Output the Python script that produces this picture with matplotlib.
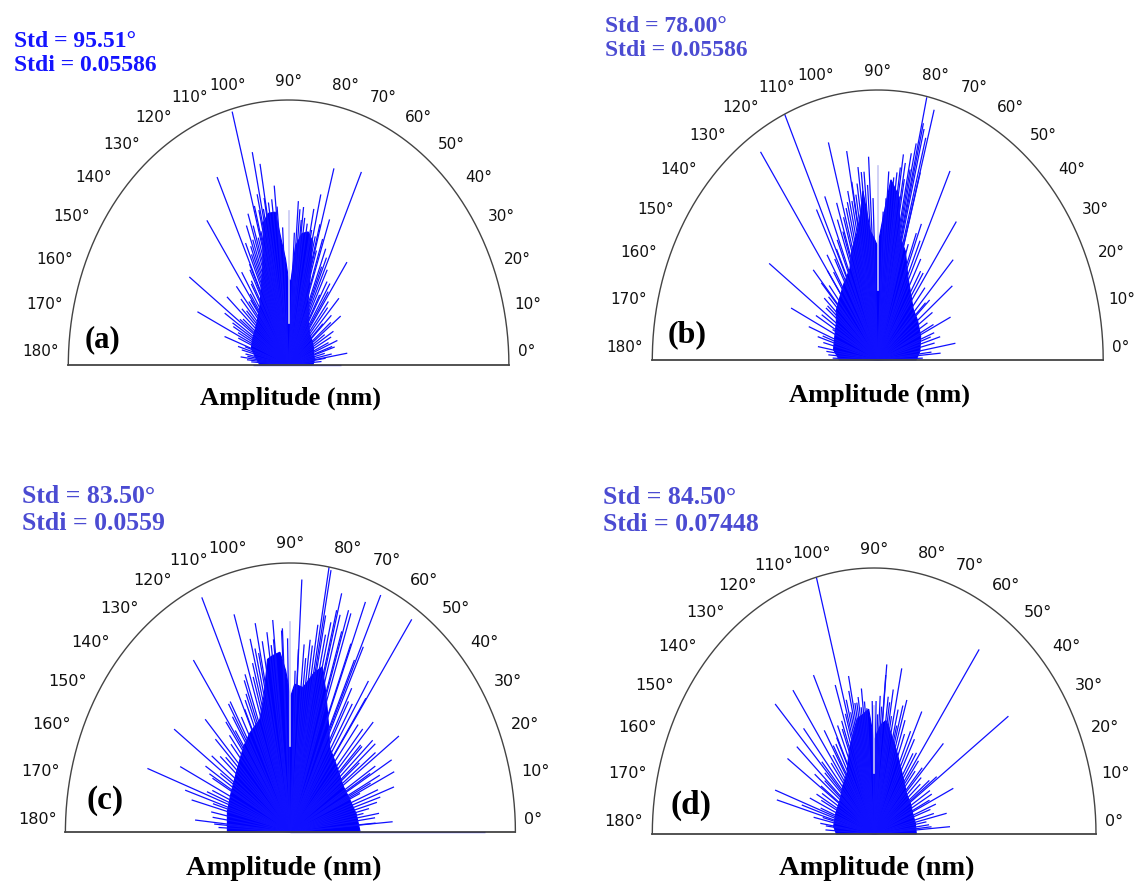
import numpy as np
import matplotlib
matplotlib.use('Agg')
import matplotlib.pyplot as plt
from matplotlib.collections import LineCollection

# ---- panel (a) ----
a_core_deg = [0, 10, 20, 30, 40, 50, 60, 65, 70, 74, 77, 80, 83, 86, 88, 90, 92, 94, 96, 99,
              102, 105, 108, 112, 120, 130, 140, 150, 160, 170, 180]
a_core_amp = [0.11, 0.12, 0.12, 0.13, 0.14, 0.15, 0.18, 0.22, 0.26, 0.36, 0.48, 0.51, 0.50, 0.45,
              0.32, 0.32, 0.40, 0.47, 0.58, 0.58, 0.55, 0.45, 0.38, 0.33, 0.26, 0.22, 0.20, 0.19,
              0.18, 0.15, 0.13]
a_spike_deg = [105.0, 101.6, 99.7, 114.6, 124.2, 143.6, 154.1, 95.5, 107.9, 110.0, 121.3, 128.6,
               137.4, 146.0, 150.0, 159.7, 172.0, 160.8, 85.9, 74.5, 65.6, 77.2, 71.3, 55.7, 47.8,
               28.7, 78.4, 73.7, 68.0, 58.6, 50.7, 38.0, 22.7, 9.5, 19.5, 8.6, 85.0, 0.0, 180.0,
               82.5, 81.0, 83.5, 97.0, 98.5, 103.0, 104.0, 106.0, 112.0, 116.0, 118.0, 125.0,
               133.0, 140.0, 165.0, 170.0, 62.0, 45.0, 35.0, 15.0, 5.0, 176.0,
               12.0, 18.0, 25.0, 32.0, 40.0, 44.0, 53.0, 57.0, 61.0, 64.0, 67.0, 69.0, 72.0,
               75.0, 76.0, 79.0, 84.0, 87.0, 93.0, 95.0, 100.0, 101.0, 102.5, 104.5, 107.0,
               109.0, 111.0, 113.0, 115.0, 119.0, 123.0, 127.0, 131.0, 135.0, 142.0, 148.0,
               152.0, 156.0, 163.0, 168.0, 174.0]
a_spike_amp = [0.99, 0.82, 0.77, 0.78, 0.66, 0.56, 0.46, 0.68, 0.60, 0.56, 0.41, 0.38,
               0.38, 0.35, 0.29, 0.31, 0.22, 0.21, 0.62, 0.77, 0.80, 0.66, 0.58, 0.47, 0.34,
               0.22, 0.52, 0.45, 0.40, 0.36, 0.28, 0.30, 0.24, 0.27, 0.21, 0.17, 0.59, 0.24, 0.16,
               0.56, 0.54, 0.60, 0.63, 0.62, 0.60, 0.52, 0.50, 0.45, 0.40, 0.36, 0.30,
               0.28, 0.27, 0.22, 0.19, 0.30, 0.22, 0.20, 0.17, 0.15, 0.17,
               0.20, 0.22, 0.20, 0.24, 0.25, 0.27, 0.30, 0.33, 0.36, 0.40, 0.44, 0.47, 0.50,
               0.55, 0.50, 0.60, 0.55, 0.50, 0.52, 0.60, 0.64, 0.60, 0.66, 0.62, 0.55,
               0.50, 0.48, 0.50, 0.42, 0.35, 0.32, 0.30, 0.33, 0.30, 0.28, 0.30,
               0.26, 0.25, 0.24, 0.20, 0.19]
a_gap = [0.16, 0.58]

# ---- panel (b) ----
b_core_deg = [0, 10, 25, 40, 50, 60, 67, 73, 78, 81, 85, 88, 90, 92, 94, 96, 98, 101, 106, 110,
              118, 125, 135, 143, 155, 169, 180]
b_core_amp = [0.17, 0.19, 0.21, 0.23, 0.245, 0.29, 0.34, 0.42, 0.47, 0.61, 0.67, 0.50, 0.42,
              0.45, 0.48, 0.63, 0.55, 0.48, 0.42, 0.36, 0.32, 0.29, 0.26, 0.23, 0.21, 0.20, 0.17]
b_spike_deg = [114.4, 124.0, 143.4, 105.2, 100.1, 93.1, 77.4, 74.9, 81.5, 65.4, 55.8, 48.0,
               39.7, 26.2, 17.3, 69.0, 74.8, 111.2, 116.0, 107.4, 99.9, 153.4, 158.0, 130.6,
               131.2, 169.4, 150.6, 10.2, 5.2, 32.0, 72.5, 82.2,
               76.5, 78.5, 80.0, 83.0, 86.0, 96.0, 98.0, 103.0, 109.0, 120.0, 136.0, 140.0,
               162.0, 175.0, 60.0, 45.0, 20.0, 2.0,
               75.5, 77.0, 78.0, 79.0, 80.5, 82.0, 84.0, 85.0, 86.5, 87.5, 70.0, 67.0, 63.0,
               58.0, 52.0, 44.0, 36.0, 28.0, 22.0, 14.0, 7.0, 92.0, 94.0, 95.0, 97.0, 99.0,
               101.0, 102.0, 104.0, 106.0, 108.0, 112.0, 114.0, 117.0, 121.0, 124.0, 128.0,
               133.0, 138.0, 146.0, 149.0, 160.0, 165.0, 172.0, 178.0]
b_spike_amp = [1.00, 0.93, 0.60, 0.835, 0.786, 0.754, 0.997, 0.96, 0.77, 0.77, 0.62, 0.50,
               0.43, 0.36, 0.29, 0.54, 0.72, 0.65, 0.62, 0.61, 0.67, 0.43, 0.33, 0.44,
               0.38, 0.27, 0.23, 0.35, 0.28, 0.26, 0.45, 0.62,
               0.88, 0.72, 0.68, 0.70, 0.70, 0.70, 0.66, 0.60, 0.55, 0.45, 0.33, 0.30,
               0.28, 0.22, 0.38, 0.30, 0.25, 0.20,
               0.85, 0.90, 0.82, 0.78, 0.74, 0.72, 0.68, 0.66, 0.60, 0.55, 0.50, 0.48, 0.42,
               0.38, 0.34, 0.32, 0.30, 0.28, 0.27, 0.26, 0.24, 0.60, 0.65, 0.70, 0.72, 0.62,
               0.60, 0.64, 0.58, 0.55, 0.50, 0.48, 0.45, 0.42, 0.38, 0.40, 0.35,
               0.32, 0.30, 0.30, 0.32, 0.26, 0.25, 0.23, 0.20]
b_gap = [0.26, 0.72]

# ---- panel (c) ----
c_core_deg = [0, 13, 25, 36, 50, 61, 66, 70, 74, 77, 80, 84, 88, 90, 92, 94, 97, 99, 103, 108,
              116, 123, 130, 140, 152, 165, 180]
c_core_amp = [0.31, 0.30, 0.29, 0.29, 0.32, 0.36, 0.42, 0.48, 0.56, 0.63, 0.60, 0.54, 0.55,
              0.50, 0.60, 0.67, 0.66, 0.65, 0.52, 0.44, 0.41, 0.38, 0.35, 0.32, 0.30, 0.29, 0.28]
c_spike_deg = [80.1, 79.5, 86.9, 114.3, 124.0, 107.2, 101.4, 95.7, 92.7, 75.6, 71.7, 68.7,
               65.5, 55.7, 36.5, 30.8, 143.5, 159.6, 153.6, 132.1, 118.9, 112.3, 164.8, 161.6,
               174.0, 24.9, 12.0, 31.6, 20.0, 25.9, 4.8, 0.0, 58.3, 72.6, 74.7, 64.8,
               62.0, 50.0, 45.0, 40.0, 77.0, 78.0, 82.0, 84.0, 88.0, 97.0, 103.0, 105.0,
               110.0, 121.0, 127.0, 138.0, 147.0, 150.0, 156.0, 168.0, 177.0, 8.0, 16.0,
               22.0, 28.0, 43.0, 48.0,
               5.0, 10.0, 14.0, 18.0, 27.0, 33.0, 38.0, 41.0, 46.0, 53.0, 56.0, 60.0, 63.0,
               66.0, 69.0, 73.0, 76.0, 79.0, 81.0, 83.0, 85.0, 87.0, 91.0, 93.0, 96.0, 98.0,
               100.0, 102.0, 104.0, 106.0, 109.0, 111.0, 114.0, 117.0, 120.0, 123.0, 125.0,
               129.0, 134.0, 136.0, 141.0, 145.0, 149.0, 158.0, 163.0, 171.0, 175.0]
c_spike_amp = [1.00, 0.99, 0.94, 0.957, 0.771, 0.847, 0.792, 0.792, 0.758, 0.916, 0.856, 0.918,
               0.968, 0.957, 0.60, 0.524, 0.643, 0.678, 0.547, 0.565, 0.554, 0.53, 0.455, 0.493,
               0.426, 0.341, 0.332, 0.416, 0.49, 0.513, 0.456, 0.865, 0.66, 0.864, 0.837, 0.761,
               0.55, 0.50, 0.45, 0.40, 0.80, 0.75, 0.70, 0.65, 0.60, 0.70, 0.70, 0.65,
               0.60, 0.50, 0.45, 0.42, 0.45, 0.40, 0.38, 0.36, 0.32, 0.38, 0.40,
               0.42, 0.45, 0.50, 0.55,
               0.38, 0.40, 0.36, 0.42, 0.40, 0.45, 0.48, 0.50, 0.45, 0.50, 0.60, 0.55, 0.60,
               0.70, 0.75, 0.78, 0.85, 0.82, 0.78, 0.72, 0.70, 0.68, 0.72, 0.75, 0.72, 0.75,
               0.72, 0.68, 0.74, 0.60, 0.62, 0.55, 0.50, 0.48, 0.55, 0.45, 0.50,
               0.42, 0.48, 0.40, 0.45, 0.38, 0.42, 0.40, 0.36, 0.35, 0.34]
c_gap = [0.32, 0.78]

# ---- panel (d) ----
d_core_deg = [0, 12, 24, 35, 46, 56, 65, 71, 76, 80, 83, 86, 88, 90, 92, 93, 97, 100, 104, 108,
              113, 118, 128, 140, 155, 171, 180]
d_core_amp = [0.19, 0.19, 0.19, 0.20, 0.21, 0.24, 0.28, 0.32, 0.36, 0.40, 0.43, 0.41, 0.38,
              0.35, 0.42, 0.47, 0.45, 0.44, 0.39, 0.35, 0.30, 0.26, 0.23, 0.20, 0.19, 0.185, 0.17]
d_spike_deg = [105.1, 114.6, 124.1, 132.4, 144.0, 159.7, 101.0, 84.9, 78.7, 55.7, 36.2, 65.0,
               94.0, 47.5, 25.7, 4.6, 37.4, 107.4, 128.7, 136.7, 163.7, 170.6, 161.5, 13.4, 73.7,
               88.0, 86.0, 82.0, 80.0, 76.0, 70.0, 60.0, 52.0, 42.0, 30.0, 20.0, 8.0, 97.0,
               99.0, 103.0, 110.0, 117.0, 120.0, 140.0, 150.0, 155.0, 167.0, 176.0,
               6.0, 11.0, 16.0, 22.0, 27.0, 33.0, 39.0, 45.0, 49.0, 54.0, 58.0, 63.0, 67.0,
               72.0, 75.0, 77.0, 81.0, 83.0, 85.0, 87.0, 89.0, 91.0, 95.0, 96.0, 98.0, 100.0,
               102.0, 104.0, 106.0, 109.0, 112.0, 115.0, 119.0, 122.0, 126.0, 131.0, 134.0,
               138.0, 143.0, 147.0, 152.0, 158.0, 165.0, 172.0]
d_spike_amp = [1.00, 0.657, 0.653, 0.662, 0.483, 0.476, 0.605, 0.64, 0.635, 0.84, 0.75, 0.508,
               0.474, 0.462, 0.396, 0.343, 0.355, 0.587, 0.509, 0.479, 0.457, 0.246, 0.344, 0.336,
               0.525,
               0.45, 0.48, 0.50, 0.45, 0.42, 0.40, 0.35, 0.30, 0.28, 0.30, 0.27, 0.25, 0.48,
               0.50, 0.47, 0.42, 0.38, 0.45, 0.35, 0.30, 0.32, 0.28, 0.22,
               0.26, 0.24, 0.28, 0.30, 0.28, 0.30, 0.32, 0.30, 0.33, 0.34, 0.36, 0.40, 0.42,
               0.45, 0.50, 0.48, 0.55, 0.52, 0.60, 0.52, 0.50, 0.50, 0.50, 0.55, 0.52, 0.50,
               0.55, 0.52, 0.47, 0.45, 0.44, 0.40, 0.38, 0.35, 0.33, 0.36, 0.32,
               0.30, 0.30, 0.28, 0.27, 0.26, 0.24, 0.22]
d_gap = [0.23, 0.48]

std_text = ['Std = 95.51°\nStdi = 0.05586', 'Std = 78.00°\nStdi = 0.05586',
            'Std = 83.50°\nStdi = 0.0559', 'Std = 84.50°\nStdi = 0.07448']
panel_tags = ['(a)', '(b)', '(c)', '(d)']

W, H = 1136, 881
fig = plt.figure(figsize=(W / 100, H / 100), dpi=100)


def fx(x):
    return x / W


def fy(y):
    return 1 - y / H


def draw_panel(box, core_deg, core_amp, spike_deg, spike_amp, gap, lab_size):
    l, r, t, b = box
    ax = fig.add_axes([fx(l), fy(b), (r - l) / W, (b - t) / H])
    ax.set_xlim(-1, 1)
    ax.set_ylim(0, 1)
    ax.axis('off')

    th = np.radians(core_deg)
    amp = np.array(core_amp)
    ax.fill(np.r_[0, amp * np.cos(th), 0], np.r_[0, amp * np.sin(th), 0],
            fc='#0000ff', ec='#0000ff', lw=0.8, clip_on=False, zorder=2)

    th = np.radians(spike_deg)
    amp = np.array(spike_amp)
    segs = [[(0, 0), (a * np.cos(q), a * np.sin(q))] for q, a in zip(th, amp)]
    ax.add_collection(LineCollection(segs, colors='#1010ff', linewidths=0.9,
                                     zorder=3, clip_on=False))
    ax.plot([0, 0], gap, color='#c8c8f4', lw=1.2, zorder=4)

    # half-ellipse frame
    tt = np.linspace(0, np.pi, 361)
    ax.plot(np.cos(tt), np.sin(tt), color='#444444', lw=1.0, clip_on=False, zorder=5)
    ax.plot([-1, 1], [0, 0], color='#444444', lw=1.3, clip_on=False, zorder=5)

    for d in range(0, 181, 10):
        q = np.radians(d)
        if d < 90:
            ha, dx = 'left', 4 + 5 * np.cos(q)
        elif d > 90:
            ha, dx = 'right', -(4 + 5 * abs(np.cos(q)))
        else:
            ha, dx = 'center', 0
        dy = 13 + 6 * np.sin(q)
        ax.annotate(f'{d}°', (np.cos(q), np.sin(q)), xytext=(dx * 0.72, dy * 0.72),
                    textcoords='offset points', ha=ha, va='center',
                    fontsize=lab_size, family='DejaVu Sans', color='#111111')
    return ax


boxes = [(68.3, 508.9, 100, 365), (652.3, 1103.2, 90, 360),
         (65.4, 515.4, 563, 832), (652.3, 1096.0, 568, 834)]
data = [(a_core_deg, a_core_amp, a_spike_deg, a_spike_amp, a_gap),
        (b_core_deg, b_core_amp, b_spike_deg, b_spike_amp, b_gap),
        (c_core_deg, c_core_amp, c_spike_deg, c_spike_amp, c_gap),
        (d_core_deg, d_core_amp, d_spike_deg, d_spike_amp, d_gap)]
lab_sizes = [11, 11, 11.5, 11.5]

for box, dd, ls in zip(boxes, data, lab_sizes):
    draw_panel(box, *dd, ls)

serif = 'Liberation Serif'
# stats text
std_pos = [(14, 31), (605, 16), (22, 485), (603, 486)]
std_col = ['#1414ff', '#4b4bd2', '#4b4bd2', '#4b4bd2']
std_size = [17, 17, 18.5, 18.5]
for s, (x, y), c, fs in zip(std_text, std_pos, std_col, std_size):
    fig.text(fx(x), fy(y), s, color=c, fontsize=fs, fontweight='bold', family=serif,
             ha='left', va='top', linespacing=1.2)

# panel tags
tag_pos = [(103, 340), (687, 335), (105, 800), (691, 805)]
tag_size = [22, 23, 24, 24]
for s, (x, y), fs in zip(panel_tags, tag_pos, tag_size):
    fig.text(fx(x), fy(y), s, fontsize=fs, fontweight='bold', family=serif,
             ha='center', va='center')

# axis titles
amp_pos = [(290, 398), (879, 395), (284, 868), (877, 868)]
amp_size = [19, 19, 20.5, 20.5]
for (x, y), fs in zip(amp_pos, amp_size):
    fig.text(fx(x), fy(y), 'Amplitude (nm)', fontsize=fs, fontweight='bold', family=serif,
             ha='center', va='center')

fig.savefig('out.png', dpi=100, facecolor='white')
